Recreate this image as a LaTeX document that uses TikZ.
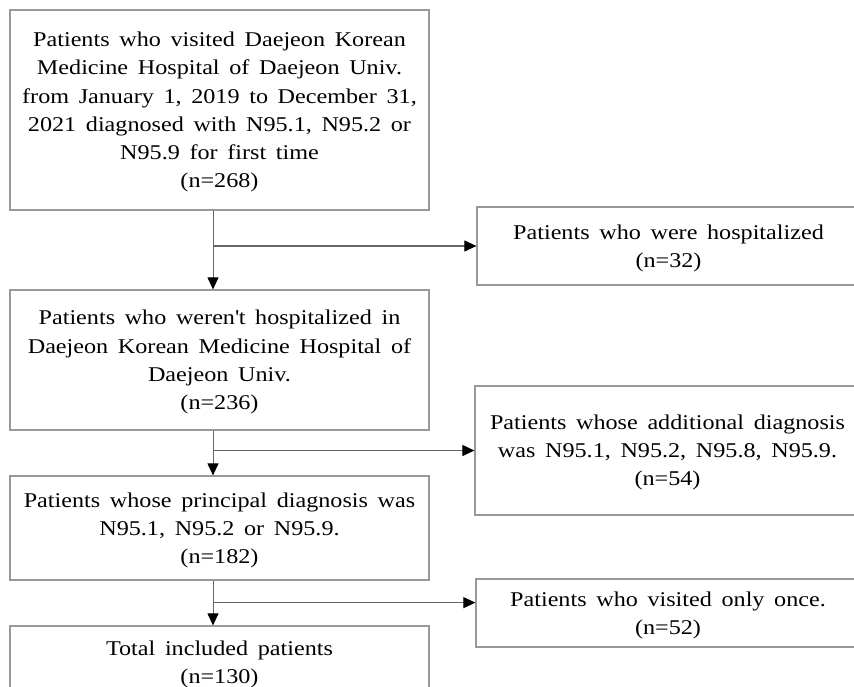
\documentclass[tikz,border=0pt]{standalone}
\usepackage{fontspec}
\setmainfont{Liberation Serif}[FakeStretch=1.15, WordSpace=1.6]
\usetikzlibrary{arrows.meta,calc}
\begin{document}
\begin{tikzpicture}[x=1pt,y=-1pt,
  box/.style={draw=black!40, line width=1.2pt, align=center,
    font=\fontsize{21pt}{28.2pt}\selectfont, inner sep=0pt, text depth=-3.5pt},
  conn/.style={draw=black!60, line width=1pt},
  arr/.style={conn, -{Triangle[length=12pt,width=11pt,color=black]}}]
\useasboundingbox (0,0) rectangle (854,687);
\clip (0,0) rectangle (854,687);
\fill[white] (0,0) rectangle (854,687);
\node[box, minimum width=419pt, minimum height=200pt] (b1) at (219.5,110)
  {Patients who visited Daejeon Korean\\Medicine Hospital of Daejeon Univ.\\from January 1, 2019 to December 31,\\2021 diagnosed with N95.1, N95.2 or\\N95.9 for first time\\(n=268)};
\node[box, minimum width=419pt, minimum height=140pt] (b2) at (219.5,360)
  {Patients who weren\textquotesingle t hospitalized in\\Daejeon Korean Medicine Hospital of\\Daejeon Univ.\\(n=236)};
\node[box, minimum width=419pt, minimum height=104pt] (b3) at (219.5,528)
  {Patients whose principal diagnosis was\\N95.1, N95.2 or N95.9.\\(n=182)};
\node[box, minimum width=419pt, minimum height=72pt] (b4) at (219.5,662)
  {Total included patients\\(n=130)};
\node[box, minimum width=383pt, minimum height=78pt] (r1) at (668.5,246)
  {Patients who were hospitalized\\(n=32)};
\node[box, minimum width=385pt, minimum height=129pt] (r2) at (667.5,450.5)
  {Patients whose additional diagnosis\\was N95.1, N95.2, N95.8, N95.9.\\(n=54)};
\node[box, minimum width=384pt, minimum height=68pt] (r3) at (668,613)
  {Patients who visited only once.\\(n=52)};
\coordinate (vx) at (213,0);
\draw[arr] (b1.south -| vx) -- (b2.north -| vx);
\draw[arr] (vx |- r1.west) -- (r1.west);
\draw[arr] (b2.south -| vx) -- (b3.north -| vx);
\draw[arr] (vx |- r2.west) -- (r2.west);
\coordinate (r3in) at ($(r3.north west)!0.35!(r3.south west)$);
\draw[arr] (b3.south -| vx) -- (b4.north -| vx);
\draw[arr] (vx |- r3in) -- (r3in);
\end{tikzpicture}
\end{document}
